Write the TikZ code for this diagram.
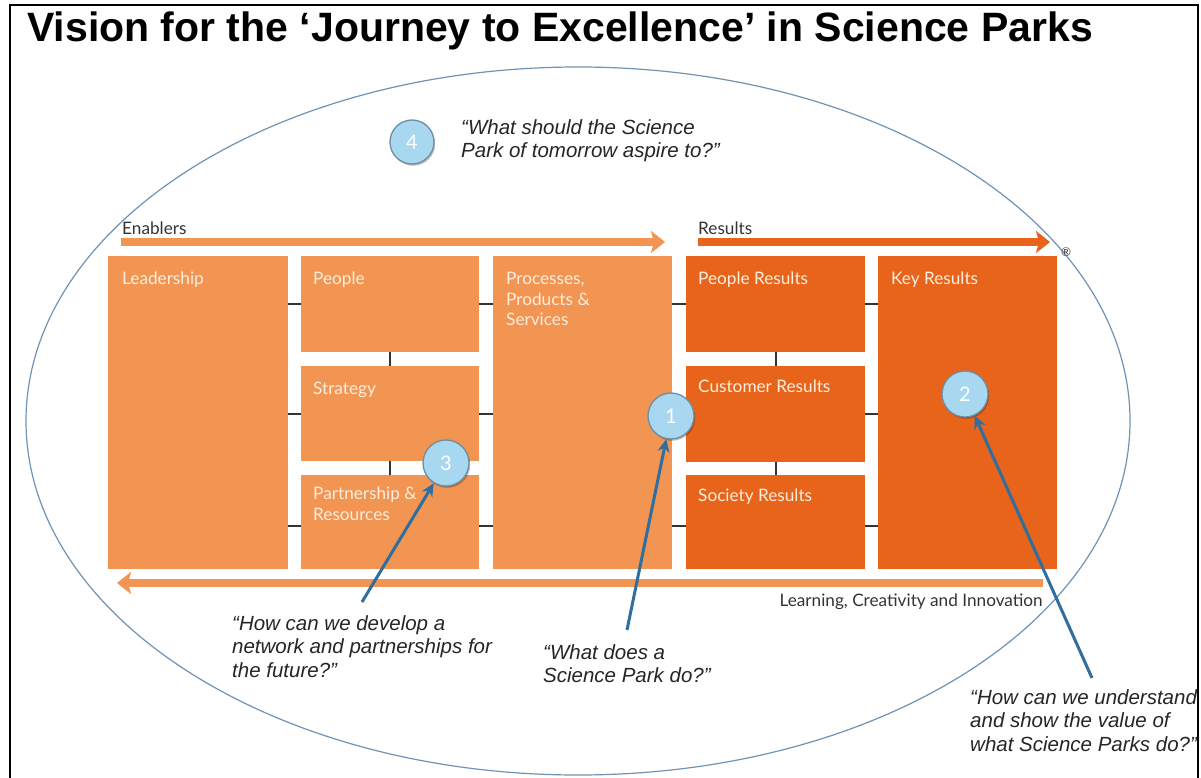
\documentclass[tikz,border=0pt]{standalone}
\usepackage{fontspec}
\usetikzlibrary{arrows.meta,calc,shadows}
\newfontfamily\arialfont{Liberation Sans}
\newfontfamily\latofont{Lato}
\definecolor{enab}{HTML}{F29452}
\definecolor{resl}{HTML}{E8641A}
\definecolor{boxtext}{HTML}{FDEEDD}
\definecolor{ringblue}{HTML}{6F93B5}
\definecolor{dotfill}{HTML}{A8D7F0}
\definecolor{dotedge}{HTML}{6F8DA3}
\definecolor{pointer}{HTML}{2F6E9E}
\definecolor{ink}{HTML}{333333}

\begin{document}
\begin{tikzpicture}[x=1pt,y=-1pt,
  enbox/.style={fill=enab, draw=none, anchor=north west, inner sep=0pt},
  resbox/.style={fill=resl, draw=none, anchor=north west, inner sep=0pt},
  boxlabel/.style={text=boxtext, font=\latofont\fontsize{17.2}{20.5}\selectfont, anchor=north west, align=left, inner sep=0pt},
  link/.style={draw=ink, line width=2pt},
  flowbar/.style={line width=8pt, -{Stealth[length=14pt,width=22pt,inset=3pt]}},
  dot/.style={circle, fill=dotfill, draw=dotedge, line width=1.3pt, minimum size=46pt, inner sep=0pt, text=white,
    font=\latofont\fontsize{20}{24}\selectfont,
    drop shadow={shadow xshift=1.2pt, shadow yshift=-1.8pt, opacity=0.25, fill=black}},
  question/.style={font=\arialfont\itshape\fontsize{20.5}{23.5}\selectfont, text=black!85, align=left, anchor=north west, inner sep=0pt},
  ptr/.style={draw=pointer, line width=3pt, -{Stealth[length=13pt,width=12pt]}},
  heading/.style={font=\latofont\fontsize{17.2}{20}\selectfont, text=ink, inner sep=0pt},
]
\useasboundingbox[fill=white] (0,0) rectangle (1201,778);

% page frame (open at the bottom)
\draw[black, line width=1.5pt] (10,800) -- (10,5) -- (1198,5) -- (1198,800);

% title
\node[font=\arialfont\bfseries\fontsize{41}{45}\selectfont, anchor=base west, inner sep=0pt] (title)
  at (27,42) {Vision for the ‘Journey to Excellence’ in Science Parks};

% outer ellipse
\draw[draw=ringblue, line width=1.2pt] (578,421) ellipse [x radius=552, y radius=354];

% flow arrows
\coordinate (enabL) at (121,242);
\coordinate (enabR) at (665,242);
\coordinate (resL) at (698,242);
\coordinate (resR) at (1050,242);
\coordinate (learnR) at (1043,583);
\coordinate (learnL) at (117,583);
\draw[flowbar, draw=enab] (enabL) -- (enabR);
\draw[flowbar, draw=resl] (resL) -- (resR);
\draw[flowbar, draw=enab] (learnR) -- (learnL);
\node[heading, anchor=base west] (enabtxt) at (122,234) {Enablers};
\node[heading, anchor=base west] (restxt) at (698,234) {Results};
\node[heading, anchor=base east] (learntxt) at (1043,606) {Learning, Creativity and Innovation};
\node[font=\latofont\fontsize{12}{12}\selectfont, text=ink, inner sep=0pt] (reg) at (1066,252) {®};

% enabler boxes
\node[enbox, minimum width=180pt, minimum height=313pt] (lead) at (108,256) {};
\node[enbox, minimum width=178pt, minimum height=96pt]  (people) at (301,256) {};
\node[enbox, minimum width=178pt, minimum height=95pt]  (strat) at (301,366) {};
\node[enbox, minimum width=178pt, minimum height=94pt]  (partn) at (301,475) {};
\node[enbox, minimum width=179pt, minimum height=313pt] (proc) at (493,256) {};
% result boxes
\node[resbox, minimum width=179pt, minimum height=96pt] (pres) at (686,256) {};
\node[resbox, minimum width=179pt, minimum height=96pt] (cres) at (686,366) {};
\node[resbox, minimum width=179pt, minimum height=94pt] (sres) at (686,475) {};
\node[resbox, minimum width=179pt, minimum height=313pt] (key) at (878,256) {};

% box labels
\node[boxlabel] (leadtxt)   at ($(lead.north west)+(14,16)$)   {Leadership};
\node[boxlabel] (peopletxt) at ($(people.north west)+(12,16)$) {People};
\node[boxlabel] (strattxt)  at ($(strat.north west)+(12,16)$)  {Strategy};
\node[boxlabel] (partntxt)  at ($(partn.north west)+(12,12)$)  {Partnership \&\\Resources};
\node[boxlabel] (proctxt)   at ($(proc.north west)+(13,16)$)   {Processes,\\Products \&\\Services};
\node[boxlabel] (prestxt)   at ($(pres.north west)+(12,16)$)   {People Results};
\node[boxlabel] (crestxt)   at ($(cres.north west)+(12,14)$)   {Customer Results};
\node[boxlabel] (srestxt)   at ($(sres.north west)+(12,14)$)   {Society Results};
\node[boxlabel] (keytxt)    at ($(key.north west)+(13,16)$)    {Key Results};

% links between boxes
\draw[link] (lead.east |- people.west) -- (people.west);
\draw[link] (lead.east |- strat.west) -- (strat.west);
\draw[link] ([yshift=-4pt]lead.east |- partn.west) -- ([yshift=-4pt]partn.west);
\draw[link] (people.east) -- (proc.west |- people.east);
\draw[link] (strat.east) -- (proc.west |- strat.east);
\draw[link] ([yshift=-4pt]partn.east) -- ([yshift=-4pt]proc.west |- partn.east);
\draw[link] (people.south) -- (strat.north);
\draw[link] (strat.south) -- (partn.north);
\draw[link] (proc.east |- pres.west) -- (pres.west);
\draw[link] (proc.east |- cres.west) -- (cres.west);
\draw[link] ([yshift=-4pt]proc.east |- sres.west) -- ([yshift=-4pt]sres.west);
\draw[link] (pres.east) -- (key.west |- pres.east);
\draw[link] (cres.east) -- (key.west |- cres.east);
\draw[link] ([yshift=-4pt]sres.east) -- ([yshift=-4pt]key.west |- sres.east);
\draw[link] (pres.south) -- (cres.north);
\draw[link] (cres.south) -- (sres.north);

% numbered markers
\node[dot] (c1) at (671,416) {1};
\node[dot] (c2) at (965,394) {2};
\node[dot] (c3) at (446,463) {3};
\node[dot, minimum size=44pt] (c4) at (412,142) {4};

% questions
\node[question] (q4) at (461,119) {“What should the Science\\Park of tomorrow aspire to?”};
\node[question] (q3) at (232,615) {“How can we develop a\\network and partnerships for\\the future?”};
\node[question] (q1) at (543,644) {“What does a\\Science Park do?”};
\node[question] (q2) at (970,689) {“How can we understand\\and show the value of\\what Science Parks do?”};

% pointers from questions to markers
\coordinate (p3) at (362,602);
\coordinate (p1) at (627,630);
\coordinate (p2) at (1092,678);
\draw[ptr] (p3) -- (c3);
\draw[ptr] (p1) -- (c1);
\draw[ptr] (p2) -- (c2);
\end{tikzpicture}
\end{document}
